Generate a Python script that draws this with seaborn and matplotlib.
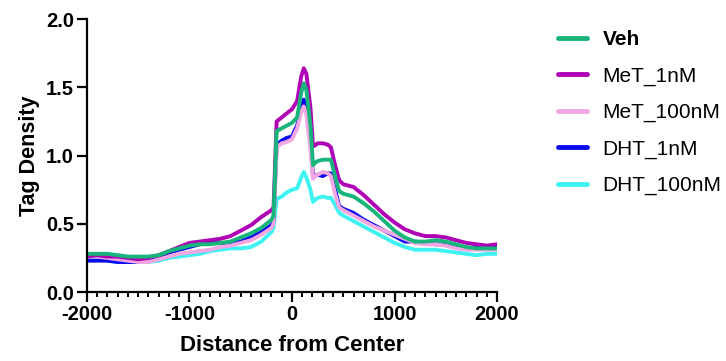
import numpy as np
import pandas as pd
import matplotlib
matplotlib.use("Agg")
import matplotlib.pyplot as plt
from matplotlib.ticker import MultipleLocator, FormatStrFormatter
import seaborn as sns

# Distance from peak center (bp)
distance = [-2000, -1900, -1800, -1700, -1600, -1500, -1400, -1300, -1200, -1100,
            -1000, -900, -800, -700, -600, -500, -400, -300, -200, -180,
            -150, -100, -50, 0, 50, 90, 115, 140, 180, 205,
            215, 250, 300, 350, 380, 420, 460, 500, 600, 700,
            800, 900, 1000, 1100, 1200, 1300, 1400, 1500, 1600, 1700,
            1800, 1900, 2000]

veh = [0.28, 0.28, 0.28, 0.27, 0.26, 0.26, 0.26, 0.27, 0.30, 0.32,
       0.34, 0.35, 0.35, 0.36, 0.37, 0.40, 0.43, 0.47, 0.53, 0.56,
       1.18, 1.20, 1.22, 1.24, 1.28, 1.46, 1.53, 1.48, 1.22, 0.93,
       0.94, 0.96, 0.97, 0.97, 0.97, 0.85, 0.74, 0.72, 0.70, 0.65,
       0.59, 0.52, 0.45, 0.40, 0.37, 0.37, 0.38, 0.37, 0.35, 0.33,
       0.32, 0.32, 0.32]

met_1nm = [0.26, 0.27, 0.26, 0.26, 0.25, 0.24, 0.25, 0.27, 0.30, 0.33,
           0.36, 0.37, 0.38, 0.39, 0.41, 0.45, 0.49, 0.55, 0.60, 0.62,
           1.25, 1.28, 1.31, 1.34, 1.40, 1.58, 1.64, 1.60, 1.35, 1.07,
           1.07, 1.09, 1.09, 1.08, 1.06, 0.93, 0.82, 0.79, 0.77, 0.71,
           0.64, 0.57, 0.51, 0.46, 0.43, 0.41, 0.41, 0.40, 0.38, 0.36,
           0.35, 0.34, 0.35]

met_100nm = [0.26, 0.26, 0.25, 0.24, 0.23, 0.22, 0.22, 0.24, 0.26, 0.28,
             0.29, 0.30, 0.31, 0.33, 0.34, 0.36, 0.38, 0.42, 0.47, 0.50,
             1.06, 1.09, 1.10, 1.12, 1.20, 1.32, 1.36, 1.30, 1.05, 0.83,
             0.84, 0.86, 0.88, 0.87, 0.85, 0.72, 0.62, 0.60, 0.56, 0.52,
             0.48, 0.45, 0.42, 0.39, 0.36, 0.35, 0.35, 0.34, 0.32, 0.31,
             0.31, 0.31, 0.31]

dht_1nm = [0.23, 0.23, 0.23, 0.22, 0.22, 0.22, 0.24, 0.26, 0.29, 0.31,
           0.33, 0.35, 0.36, 0.36, 0.36, 0.37, 0.40, 0.44, 0.49, 0.52,
           1.08, 1.11, 1.13, 1.14, 1.22, 1.36, 1.41, 1.36, 1.10, 0.85,
           0.85, 0.86, 0.85, 0.87, 0.87, 0.75, 0.63, 0.61, 0.58, 0.53,
           0.49, 0.45, 0.41, 0.37, 0.37, 0.36, 0.35, 0.35, 0.33, 0.32,
           0.33, 0.33, 0.33]

dht_100nm = [0.24, 0.24, 0.23, 0.22, 0.22, 0.22, 0.22, 0.23, 0.25, 0.26,
             0.27, 0.28, 0.30, 0.31, 0.32, 0.32, 0.33, 0.37, 0.44, 0.47,
             0.68, 0.70, 0.73, 0.75, 0.76, 0.84, 0.88, 0.84, 0.75, 0.66,
             0.67, 0.69, 0.70, 0.69, 0.69, 0.64, 0.58, 0.56, 0.52, 0.48,
             0.44, 0.40, 0.36, 0.33, 0.31, 0.31, 0.31, 0.30, 0.29, 0.28,
             0.27, 0.28, 0.28]

groups = ["Veh", "MeT_1nM", "MeT_100nM", "DHT_1nM", "DHT_100nM"]
series = [veh, met_1nm, met_100nm, dht_1nm, dht_100nm]
colors = {"Veh": "#17b57a", "MeT_1nM": "#b000b5", "MeT_100nM": "#f2a6e2",
          "DHT_1nM": "#0a0af0", "DHT_100nM": "#3ff2f2"}

df = pd.concat(
    [pd.DataFrame({"Distance": distance, "Density": vals, "Group": g})
     for g, vals in zip(groups, series)],
    ignore_index=True,
)

sns.set_style("ticks")
plt.rcParams["font.family"] = ["Liberation Sans", "DejaVu Sans"]
plt.rcParams["axes.unicode_minus"] = False
plt.rcParams["text.color"] = "black"
plt.rcParams["axes.labelcolor"] = "black"

fig = plt.figure(figsize=(7.26, 3.61), dpi=100)
ax = fig.add_axes([0.1198, 0.191, 0.5648, 0.756])

# draw back-to-front so Veh sits on top
draw_order = groups[::-1]
sns.lineplot(data=df, x="Distance", y="Density", hue="Group",
             hue_order=draw_order, palette=colors, linewidth=2.8,
             legend=False, ax=ax, estimator=None)

ax.set_xlim(-2000, 2000)
ax.set_ylim(0, 2.0)
ax.xaxis.set_major_locator(MultipleLocator(1000))
ax.xaxis.set_minor_locator(MultipleLocator(100))
ax.yaxis.set_major_locator(MultipleLocator(0.5))
ax.yaxis.set_major_formatter(FormatStrFormatter("%.1f"))

for s in ["top", "right"]:
    ax.spines[s].set_visible(False)
for s in ["left", "bottom"]:
    ax.spines[s].set_linewidth(1.6)
    ax.spines[s].set_color("black")

ax.tick_params(axis="both", which="major", length=7.5, width=1.6,
               labelsize=14.5, colors="black", pad=2)
ax.tick_params(axis="x", which="minor", length=3.5, width=1.4, color="black")
for lab in ax.get_xticklabels() + ax.get_yticklabels():
    lab.set_fontweight("bold")

ax.set_xlabel("Distance from Center", fontsize=16, fontweight="bold", labelpad=8)
ax.set_ylabel("Tag Density", fontsize=15.5, fontweight="bold", labelpad=4)

handles = [matplotlib.lines.Line2D([], [], color=colors[g], linewidth=3.5)
           for g in groups]
leg = fig.legend(handles, groups, loc="upper left",
                 bbox_to_anchor=(0.768, 0.917), frameon=False,
                 borderpad=0, borderaxespad=0,
                 fontsize=15, handlelength=1.4, handletextpad=0.75,
                 labelspacing=0.83)
leg.get_texts()[0].set_fontweight("bold")

fig.savefig("out.png", dpi=100)
